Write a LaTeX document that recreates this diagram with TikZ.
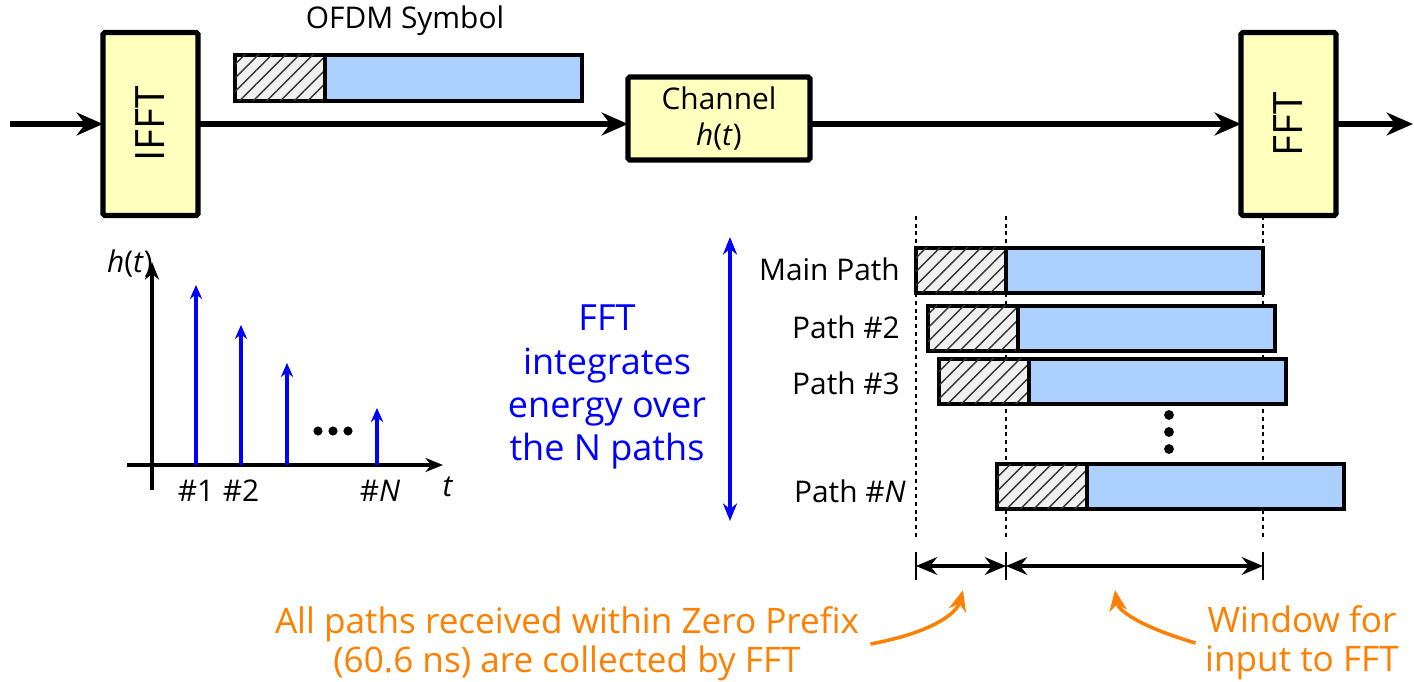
\documentclass[tikz,border=0pt]{standalone}
\usepackage{fontspec}
\setmainfont{Open Sans}
\usetikzlibrary{arrows.meta,patterns.meta,positioning,calc}
\definecolor{blockyellow}{RGB}{255,255,190}
\definecolor{symblue}{RGB}{172,208,255}
\definecolor{noteorange}{RGB}{255,128,0}
\definecolor{textblue}{RGB}{0,0,255}

\begin{document}
\begin{tikzpicture}[x=0.02cm,y=-0.02cm,
  font=\fontsize{17}{21}\selectfont,
  block/.style={draw,line width=3pt,fill=blockyellow,outer sep=0pt,rounded corners=1pt},
  cpbox/.style={draw,line width=1.9pt,fill=gray!12,outer sep=0pt,minimum width=1.8cm,minimum height=0.9cm,
    postaction={pattern={Lines[angle=45,distance=5.5pt,line width=0.8pt]},pattern color=black!80}},
  databox/.style={draw,line width=1.9pt,fill=symblue,outer sep=0pt,minimum width=5.14cm,minimum height=0.9cm},
  mainarrow/.style={line width=3.2pt,-{Stealth[length=15pt,width=13pt]}},
  axis/.style={line width=1.9pt,-{Stealth[length=10pt,width=8pt]}},
  stem/.style={textblue,line width=1.8pt,-{Stealth[length=8pt,width=7pt]}},
  guide/.style={line width=1.4pt,dash pattern=on 2.2pt off 2.2pt},
  dimarrow/.style={line width=2.6pt,{Stealth[length=12pt,width=10pt]}-{Stealth[length=12pt,width=10pt]}},
  notearrow/.style={noteorange,line width=2pt,-{Stealth[length=12pt,width=10pt]}}]
\useasboundingbox (0,0) rectangle (1414,682);

% transmitter - channel - receiver
\coordinate (in) at (10,124);
\coordinate (out) at (1413,124);
\node[block,minimum width=1.9cm,minimum height=3.66cm] (ifft) at (150.5,124) {\rotatebox{90}{\fontsize{23}{27}\selectfont IFFT}};
\node[block,minimum width=3.64cm,minimum height=1.66cm,align=center] (chan) at (719,118.5) {Channel\\\textit{h}(\textit{t})};
\node[block,minimum width=1.9cm,minimum height=3.66cm] (fft) at (1288.5,124) {\rotatebox{90}{\fontsize{23}{27}\selectfont FFT}};
\draw[mainarrow] (in) -- (ifft);
\draw[mainarrow] (ifft.east) -- (ifft.east-|chan.west);
\draw[mainarrow] (chan.east|-fft.west) -- (fft.west);
\draw[mainarrow] (fft) -- (out);

% symbol with prefix
\node[cpbox,anchor=north west,minimum height=0.92cm] (symcp) at (235,55) {};
\node[databox,anchor=west,minimum height=0.92cm] (symdata) at (symcp.east) {};
\node (symlab) at (405,21) {OFDM Symbol};

% impulse response
\coordinate (o) at (152,465);
\draw[axis] (152,490) -- (152,262);
\draw[axis] (127,465) -- (443,465);
\foreach \nm/\x/\top in {1/196/285, 2/241/325, 3/287/363, N/377/408}
  \draw[stem] (\x,465) coordinate (s\nm) -- (\x,\top) coordinate (t\nm);
\node (h1) at (196,491) {\#1};
\node (h2) at (241,491) {\#2};
\node (hN) at (380,491) {\#\textit{N}};
\node (tlab) at (448,487) {\textit{t}};
\node (hlab) at (130,264) {\textit{h}(\textit{t})};
\foreach \dx in {318,333,348} \fill (\dx,431) circle (2.6pt);

% energy note
\coordinate (eTop) at (730,237);
\coordinate (eBot) at (730,521);
\draw[textblue,line width=1.9pt,{Stealth[length=10pt,width=8pt]}-{Stealth[length=10pt,width=8pt]}] (eTop) -- (eBot);
\node[textblue,align=center,font=\fontsize{20.5}{24.5}\selectfont] (enote) at (607,387) {FFT\\integrates\\energy over\\the N paths};

% received paths
\foreach \gx in {916,1006,1263} \draw[guide] (\gx,216) -- (\gx,540);
\foreach \nm/\x/\y in {1/916/248, 2/928/306, 3/939/359, N/997/464} {
  \node[cpbox,anchor=north west] (cp\nm) at (\x,\y) {};
  \node[databox,anchor=west] (data\nm) at (cp\nm.east) {};
}
\node[anchor=east] (lab1) at (906,269) {Main Path};
\node[anchor=east] (lab2) at (906,327) {Path \#2};
\node[anchor=east] (lab3) at (906,383) {Path \#3};
\node[anchor=east] (labN) at (912,491) {Path \#\textit{N}};
\foreach \dy in {415,432,449} \fill (1169,\dy) circle (2.8pt);

% prefix and window
\coordinate (m1) at (916,566);
\coordinate (m2) at (1006,566);
\coordinate (m3) at (1263,566);
\foreach \m in {m1,m2,m3} \draw[line width=1.4pt] ($(\m)+(0,-14)$) -- ($(\m)+(0,14)$);
\draw[dimarrow] (m1) -- (m2);
\draw[dimarrow] (m2) -- (m3);

\node[noteorange,align=center,font=\fontsize{20}{22}\selectfont] (zpnote) at (567,644) {All paths received within Zero Prefix\\(60.6 ns) are collected by FFT};
\node[noteorange,align=center,font=\fontsize{20}{22}\selectfont] (winnote) at (1302,643) {Window for\\input to FFT};
\coordinate (zptip) at (963,590);
\coordinate (wintip) at (1115,590);
\draw[notearrow] ([xshift=3pt]zpnote.east) .. controls (935,632) and (957,612) .. (zptip);
\draw[notearrow] ([xshift=-2pt]winnote.west) .. controls (1138,626) and (1118,610) .. (wintip);
\end{tikzpicture}
\end{document}
